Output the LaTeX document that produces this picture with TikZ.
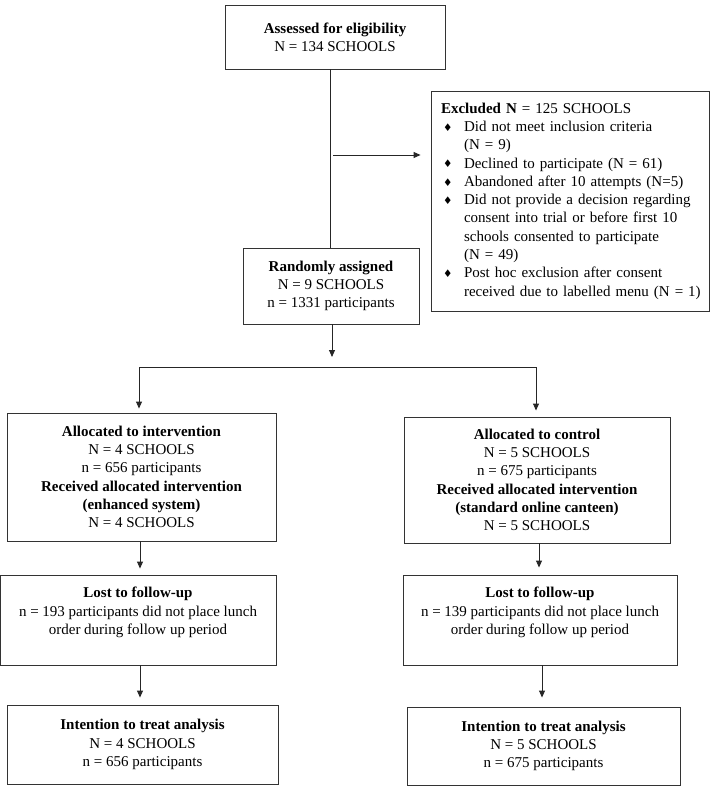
\documentclass[tikz,border=0pt]{standalone}
\usepackage{fontspec}
\setmainfont{Liberation Serif}
\newfontfamily\dejavu{DejaVu Sans}
\usetikzlibrary{arrows.meta}
\newcommand\bul{\raisebox{0.3pt}{\dejavu\fontsize{10.5}{10.5}\selectfont ♦}}
\newcommand\fsz{\fontsize{15}{18.3}\selectfont}
\begin{document}
\begin{tikzpicture}[x=1pt,y=-1pt,
 box/.style={draw=black!80, line width=0.9pt, align=center, font=\fsz, inner sep=0pt},
 conn/.style={draw=black!85, line width=0.9pt},
 arr/.style={conn, -{Triangle[length=7pt,width=6pt]}}]
\useasboundingbox (0,0) rectangle (712,786);
\node[box, minimum width=220pt, minimum height=64pt] (top) at (335,37) {\textbf{Assessed for eligibility}\\N = 134 SCHOOLS};
\node[box, minimum height=220pt, text width=262pt, inner xsep=8pt, align=left] (excl) at (570,201) {\noindent\begin{tabular}{@{}l@{}l@{}}
\multicolumn{2}{@{}l@{}}{\hspace{2pt}\textbf{Excluded N} = 125 SCHOOLS}\\
\makebox[25pt][l]{\hspace{4pt}\bul} & Did not meet inclusion criteria\\
 & (N = 9)\\
\makebox[25pt][l]{\hspace{4pt}\bul} & Declined to participate (N = 61)\\
\makebox[25pt][l]{\hspace{4pt}\bul} & Abandoned after 10 attempts (N=5)\\
\makebox[25pt][l]{\hspace{4pt}\bul} & Did not provide a decision regarding\\
 & consent into trial or before first 10\\
 & schools consented to participate\\
 & (N = 49)\\
\makebox[25pt][l]{\hspace{4pt}\bul} & Post hoc exclusion after consent\\
 & received due to labelled menu (N = 1)
\end{tabular}};
\node[box, minimum width=176pt, minimum height=76pt] (rand) at (331,286) {\textbf{Randomly assigned}\\N = 9 SCHOOLS\\n = 1331 participants};
\node[box, minimum width=269pt, minimum height=128pt] (allocL) at (141.5,477) {\textbf{Allocated to intervention}\\N = 4 SCHOOLS\\n = 656 participants\\\textbf{Received allocated intervention}\\\textbf{(enhanced system)}\\N = 4 SCHOOLS};
\node[box, minimum width=266pt, minimum height=126pt] (allocR) at (537,480) {\textbf{Allocated to control}\\N = 5 SCHOOLS\\n = 675 participants\\\textbf{Received allocated intervention}\\\textbf{(standard online canteen)}\\N = 5 SCHOOLS};
\node[box, minimum width=276pt, minimum height=90pt] (lostL) at (138,620) {\textbf{Lost to follow-up}\\n = 193 participants did not place lunch\\order during follow up period\\\mbox{}};
\node[box, minimum width=274pt, minimum height=90pt] (lostR) at (540,620) {\textbf{Lost to follow-up}\\n = 139 participants did not place lunch\\order during follow up period\\\mbox{}};
\node[box, minimum width=271pt, minimum height=79pt] (ittL) at (142.5,744.5) {\textbf{Intention to treat analysis}\\N = 4 SCHOOLS\\n = 656 participants};
\node[box, minimum width=273pt, minimum height=78pt] (ittR) at (543.5,746) {\textbf{Intention to treat analysis}\\N = 5 SCHOOLS\\n = 675 participants};
\coordinate (v) at (330,0);
\draw[conn] (top.south -| v) -- (rand.north -| v);
\coordinate (a0) at (333,155);
\draw[arr, shorten >=10pt] (a0) -- (a0 -| excl.west);
\coordinate (s) at (332,357);
\draw[arr] (rand.south -| s) -- (s);
\coordinate (hl) at (139,367);
\coordinate (hr) at (536,367);
\draw[arr, shorten >=6pt] (hl) -- (hr) -- (hr |- allocR.north);
\draw[arr, shorten >=4pt] (hr) -- (hl) -- (hl |- allocL.north);
\coordinate (cl) at (140,0);
\coordinate (cr) at (539,0);
\coordinate (cr2) at (542,0);
\draw[arr, shorten >=6pt] (allocL.south -| cl) -- (lostL.north -| cl);
\draw[arr, shorten >=7pt] (allocR.south -| cr) -- (lostR.north -| cr);
\draw[arr, shorten >=7pt] (lostL.south -| cl) -- (ittL.north -| cl);
\draw[arr, shorten >=9pt] (lostR.south -| cr2) -- (ittR.north -| cr2);
\end{tikzpicture}
\end{document}
